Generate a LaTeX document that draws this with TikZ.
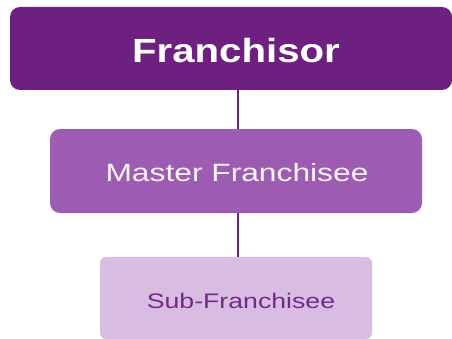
\documentclass[tikz,border=0pt]{standalone}
\usepackage{fontspec}
\setmainfont{Liberation Sans}
\usepackage{graphicx}
\definecolor{fdark}{HTML}{6E2080}
\definecolor{fmid}{HTML}{9E5BB2}
\definecolor{flight}{HTML}{D9BCE1}
\definecolor{ftext}{HTML}{73298A}
\tikzset{
  box/.style={rectangle, inner sep=0pt, draw=none},
  lbl/.style={inner sep=0pt, anchor=center},
  conn/.style={draw=fdark, line width=1.5pt}
}
\begin{document}
\begin{tikzpicture}[x=1pt,y=1pt]
\useasboundingbox (0,0) rectangle (452,338);
\clip (0,0) rectangle (452,338);
% boxes
\node[box, fill=fdark, rounded corners=10pt, minimum width=442pt, minimum height=83pt] (fr) at (231,289.5) {};
\node[box, fill=fmid, rounded corners=10pt, minimum width=372pt, minimum height=84pt] (mf) at (236,167) {};
\node[box, fill=flight, rounded corners=6pt, minimum width=272pt, minimum height=82pt] (sf) at (236,40) {};
% connectors
\draw[conn] ([xshift=2pt]mf.north |- fr.south) -- ([xshift=2pt]mf.north);
\draw[conn] ([xshift=2pt]mf.south) -- ([xshift=2pt]mf.south |- sf.north);
% labels
\node[lbl, text=white, font=\fontsize{33.5}{36}\selectfont\bfseries] (frt) at (236,338-51) {\scalebox{1.2}[1]{Franchisor}};
\node[lbl, text=white!95!fmid, font=\fontsize{25}{28}\selectfont] (mft) at (237,338-173) {\scalebox{1.27}[1]{Master Franchisee}};
\node[lbl, text=ftext, font=\fontsize{21}{24}\selectfont] (sft) at (241,338-300.5) {\scalebox{1.27}[1]{Sub-Franchisee}};
\end{tikzpicture}
\end{document}
